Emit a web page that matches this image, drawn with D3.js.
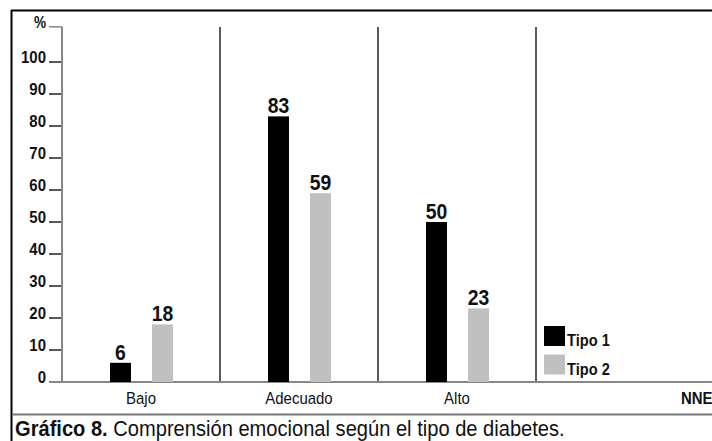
<!DOCTYPE html>
<html>
<head>
<meta charset="utf-8">
<script src="https://cdn.jsdelivr.net/npm/d3@7"></script>
<style>
  html, body { margin: 0; padding: 0; background: #fff; }
  svg { display: block; }
  text { font-family: 'Liberation Sans', Arial, sans-serif; fill: #111; }
</style>
</head>
<body>
<svg id="chart" width="712" height="441"></svg>
<script>
// Emotional comprehension by diabetes type (percent of patients)
const categories = ["Bajo", "Adecuado", "Alto", "NNE"];
const seriesNames = ["Tipo 1", "Tipo 2"];
const tipo1 = [6, 83, 50, null];
const tipo2 = [18, 59, 23, null];
const yTicks = [0, 10, 20, 30, 40, 50, 60, 70, 80, 90, 100];
const yUnit = "%";
const captionBold = "Gráfico 8.";
const captionText = " Comprensión emocional según el tipo de diabetes.";
const colors = ["#000000", "#c0c0c0"];

const svg = d3.select("#chart");
const W = 712, H = 441;

// scales
const y = d3.scaleLinear().domain([0, 100]).range([382, 62]);
const x = d3.scaleBand().domain(categories).range([62, 694]).padding(0);
const xs = d3.scaleBand().domain(seriesNames).range([-31, 32]).paddingInner(0.5).paddingOuter(0);
const color = d3.scaleOrdinal().domain(seriesNames).range(colors);

// narrow a text element horizontally around its anchor point
function narrow(sel, sx) {
  sel.each(function () {
    const t = d3.select(this);
    const tx = +t.attr("x"), ty = +t.attr("y");
    t.attr("x", 0).attr("y", 0).attr("transform", `translate(${tx},${ty}) scale(${sx},1)`);
  });
}

// frame
svg.append("line").attr("x1", 11).attr("x2", W).attr("y1", 10.5).attr("y2", 10.5)
  .attr("stroke", "#000").attr("stroke-width", 2);
svg.append("line").attr("x1", 11.5).attr("x2", 11.5).attr("y1", 10).attr("y2", H)
  .attr("stroke", "#000").attr("stroke-width", 2);
svg.append("line").attr("x1", 12).attr("x2", W).attr("y1", 414.5).attr("y2", 414.5)
  .attr("stroke", "#777").attr("stroke-width", 2);

// category separators
svg.append("g").selectAll("line")
  .data(categories.slice(1))
  .join("line")
  .attr("x1", d => x(d)).attr("x2", d => x(d))
  .attr("y1", 27).attr("y2", y(0))
  .attr("stroke", "#333").attr("stroke-width", 1.6);

// y axis
const topY = y(0) - (y(0) - y(100)) * 1.11;
const yAxisG = svg.append("g");
yAxisG.append("line").attr("x1", 62).attr("x2", 62).attr("y1", topY).attr("y2", y(0))
  .attr("stroke", "#888").attr("stroke-width", 2);
yAxisG.append("line").attr("x1", 49).attr("x2", 62).attr("y1", topY).attr("y2", topY)
  .attr("stroke", "#888").attr("stroke-width", 1.5);
yAxisG.selectAll("line.tick")
  .data(yTicks.filter(d => d > 0))
  .join("line").attr("class", "tick")
  .attr("x1", 49).attr("x2", 61).attr("y1", d => y(d)).attr("y2", d => y(d))
  .attr("stroke", "#222").attr("stroke-width", 1.5);
yAxisG.selectAll("text.tl")
  .data(yTicks)
  .join("text").attr("class", "tl")
  .attr("x", 46).attr("y", d => y(d) + 1)
  .attr("text-anchor", "end")
  .attr("font-size", 17).attr("font-weight", "bold")
  .text(d => d)
  .call(narrow, 0.88);
yAxisG.append("text")
  .attr("x", 46).attr("y", topY + 1)
  .attr("text-anchor", "end")
  .attr("font-size", 16).attr("font-weight", "bold")
  .text(yUnit)
  .call(narrow, 0.85);

// x axis baseline
svg.append("line").attr("x1", 49).attr("x2", W).attr("y1", y(0)).attr("y2", y(0))
  .attr("stroke", "#888").attr("stroke-width", 2);

// category labels
svg.append("g").selectAll("text")
  .data(categories)
  .join("text")
  .attr("x", (d, i) => i === categories.length - 1 ? x(d) + x.bandwidth() - 13 : x(d) + x.bandwidth() / 2)
  .attr("y", 404)
  .attr("text-anchor", (d, i) => i === categories.length - 1 ? "start" : "middle")
  .attr("font-size", 17)
  .attr("font-weight", (d, i) => i === categories.length - 1 ? "bold" : "normal")
  .text(d => d)
  .call(narrow, 0.88);

// bars
const rows = categories.map((c, i) => ({
  cat: c,
  values: [
    { name: seriesNames[0], v: tipo1[i] },
    { name: seriesNames[1], v: tipo2[i] }
  ].filter(d => d.v != null)
}));

const groups = svg.append("g").selectAll("g")
  .data(rows)
  .join("g")
  .attr("transform", d => `translate(${x(d.cat) + x.bandwidth() / 2},0)`);

groups.selectAll("rect")
  .data(d => d.values)
  .join("rect")
  .attr("x", d => xs(d.name))
  .attr("width", xs.bandwidth())
  .attr("y", d => y(d.v))
  .attr("height", d => y(0) - y(d.v))
  .attr("fill", d => color(d.name));

groups.selectAll("text")
  .data(d => d.values)
  .join("text")
  .attr("x", d => xs(d.name) + xs.bandwidth() / 2)
  .attr("y", d => y(d.v) - 3)
  .attr("text-anchor", "middle")
  .attr("font-size", 22).attr("font-weight", "bold")
  .text(d => d.v)
  .call(narrow, 0.88);

// legend
const legend = svg.append("g").attr("transform", "translate(544,326)");
const li = legend.selectAll("g")
  .data(seriesNames)
  .join("g")
  .attr("transform", (d, i) => `translate(0,${i * 28.5})`);
li.append("rect").attr("width", 21).attr("height", 20).attr("fill", d => color(d));
li.append("text").attr("x", 23).attr("y", 20)
  .attr("font-size", 17).attr("font-weight", "bold")
  .text(d => d)
  .call(narrow, 0.86);

// caption
const cap = svg.append("text").attr("x", 15).attr("y", 436).attr("font-size", 22);
cap.append("tspan").attr("font-weight", "bold").text(captionBold);
cap.append("tspan").text(captionText);
const capLen = cap.node().getComputedTextLength();
cap.call(narrow, 550 / capLen);
</script>
</body>
</html>
